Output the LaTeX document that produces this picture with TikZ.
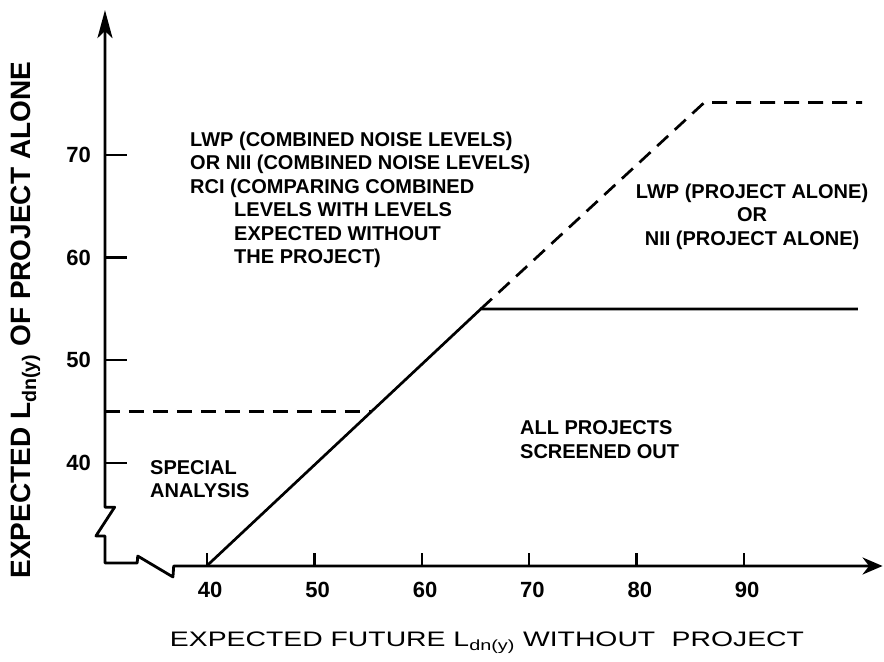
\documentclass[tikz,border=0pt]{standalone}
\usepackage{fontspec}
\setmainfont{Liberation Sans}
\usepackage{graphicx}
\usetikzlibrary{arrows.meta}
\begin{document}
\begin{tikzpicture}
[
    x=10.74pt, y=10.27pt,
    axis/.style={line width=2.8pt,line join=round},
    curve/.style={line width=2.7pt},
    limit/.style={curve,dash pattern=on 15pt off 9pt},
    tick/.style={line width=2.4pt},
    ticklabel/.style={font=\fontsize{22}{22}\selectfont\bfseries,inner sep=0pt},
    region/.style={font=\fontsize{20}{23.5}\selectfont\bfseries,inner sep=0pt,align=left},
]
\useasboundingbox (20.726,20.623) rectangle (103.036,85.083);

\coordinate (xtip) at (102.9,29.97);
\coordinate (ytip) at (30.5,84.1);
\coordinate (start) at (40,30);
\coordinate (knee) at (65.5,55);
\coordinate (solidend) at (100.6,55);
\coordinate (dashknee) at (86.3,75.1);
\coordinate (dashend) at (101,75.1);
\coordinate (lowstart) at (30.5,45);
\coordinate (lowend) at (55.3,45);

\draw[axis,{Stealth[length=20pt,width=17pt]}-{Stealth[length=28pt,width=15pt,inset=7pt]}]
    (xtip) -- (36.9,29.97) -- (36.83,28.9) -- (33.55,30.94) -- (33.5,30.26) -- (30.5,30.26)
    -- (30.5,32.9) -- (29.66,32.9) -- (31.4,35.7) -- (30.5,35.7) -- (ytip);

\draw[tick] (30.5,40) -- (32.55,40);
\draw[tick] (30.5,50) -- (32.55,50);
\draw[tick] (30.5,60) -- (32.55,60);
\draw[tick] (30.5,70) -- (32.55,70);

\draw[tick] (40,29.97) -- (40,31.2);
\draw[tick] (50,29.97) -- (50,31.2);
\draw[tick] (60,29.97) -- (60,31.2);
\draw[tick] (70,29.97) -- (70,31.2);
\draw[tick] (80,29.97) -- (80,31.2);
\draw[tick] (90,29.97) -- (90,31.2);

\draw[curve] (start) -- (knee) -- (solidend);
\draw[limit] (knee) -- (dashknee) -- (dashend);
\draw[limit] (lowstart) -- (lowend);

\node[ticklabel,anchor=east] (y40) at (29.2,40) {40};
\node[ticklabel,anchor=east] (y50) at (29.2,50) {50};
\node[ticklabel,anchor=east] (y60) at (29.2,60) {60};
\node[ticklabel,anchor=east] (y70) at (29.2,70) {70};

\node[ticklabel] (x40) at (40.3,27.6) {40};
\node[ticklabel] (x50) at (50.3,27.6) {50};
\node[ticklabel] (x60) at (60.3,27.6) {60};
\node[ticklabel] (x70) at (70.3,27.6) {70};
\node[ticklabel] (x80) at (80.3,27.6) {80};
\node[ticklabel] (x90) at (90.3,27.6) {90};

\node[rotate=90,font=\fontsize{28}{28}\selectfont\bfseries] (ytitle) at (23.1,53.9)
    {EXPECTED L\textsubscript{dn(y)} OF PROJECT ALONE};
\node[anchor=base,font=\fontsize{21}{21}\selectfont] (xtitle) at (66.07,22.13)
    {\scalebox{1.35}[1]{EXPECTED FUTURE L\textsubscript{dn(y)} WITHOUT\hspace{0.3em} PROJECT}};

\node[region,anchor=north west] (combined) at (38.42,72.28)
    {LWP (COMBINED NOISE LEVELS)\\OR NII (COMBINED NOISE LEVELS)\\RCI (COMPARING COMBINED\\
     \hspace*{44pt}LEVELS WITH LEVELS\\\hspace*{44pt}EXPECTED WITHOUT\\\hspace*{44pt}THE PROJECT)};
\node[region,align=center] (alone) at (90.75,64)
    {LWP (PROJECT ALONE)\\OR\hspace*{44pt}\\NII (PROJECT ALONE)};
\node[region,anchor=north west] (screened) at (69.14,44.12) {ALL PROJECTS\\SCREENED OUT};
\node[region,anchor=north west] (special) at (34.69,40.29) {SPECIAL\\ANALYSIS};
\end{tikzpicture}
\end{document}
